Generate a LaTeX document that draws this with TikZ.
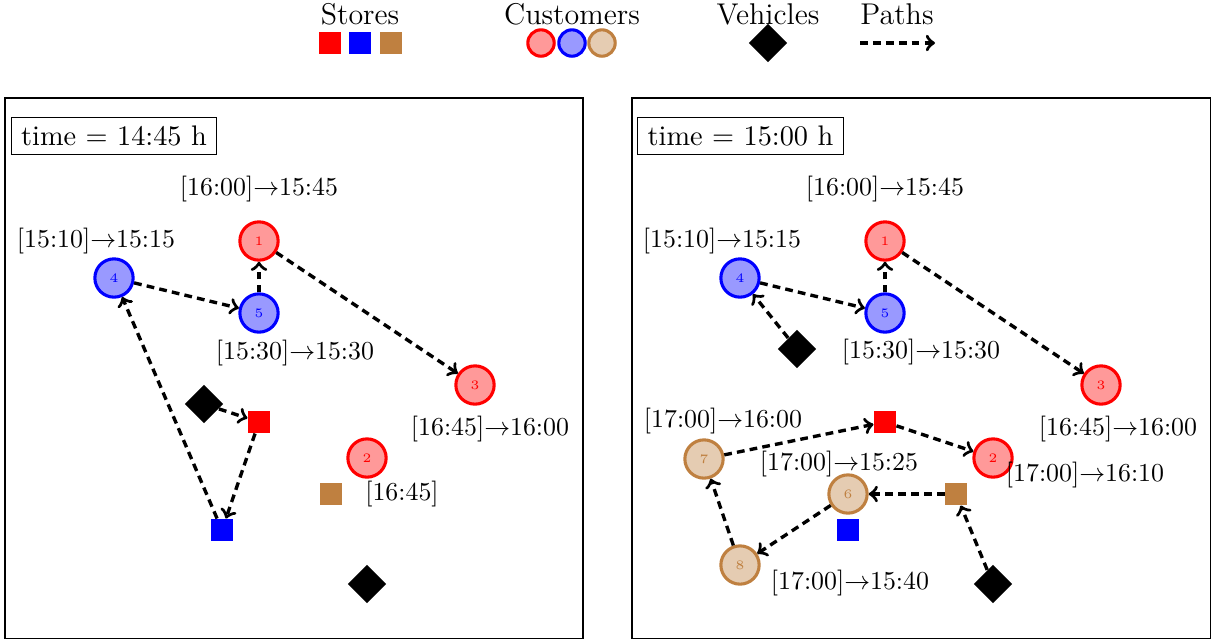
\documentclass[tikz,border=0pt]{standalone}
\usetikzlibrary{shapes.geometric}
\begin{document}
\begin{tikzpicture}[x=0.3867pt,y=-0.3867pt,
  cust/.style={circle, draw=#1, fill=#1!40, line width=1.2pt, minimum size=14.8pt, inner sep=0pt, text=#1, font=\tiny},
  lcust/.style={circle, draw=#1, fill=#1!40, line width=1.2pt, minimum size=10.2pt, inner sep=0pt},
  store/.style={rectangle, fill=#1, minimum size=8.5pt, inner sep=0pt},
  veh/.style={diamond, fill=black, minimum size=15pt, inner sep=0pt},
  route/.style={->, line width=1.3pt, dash pattern=on 3pt off 2pt},
  lab/.style={inner sep=0pt},
  leg/.style={inner sep=0pt, anchor=base, font=\fontsize{11.6}{13.5}\selectfont},
  timebox/.style={draw, line width=0.4pt, inner xsep=3.9pt, minimum height=14.3pt, font=\fontsize{10.95}{13}\selectfont},
  panel/.style={draw, line width=0.4pt}]
\useasboundingbox (0,0) rectangle (1216,640);

% legend
\node[leg] (tS) at (360,24) {Stores};
\node[store=red] (gR) at (330,43) {};
\node[store=blue] (gB) at (360,43) {};
\node[store=brown] (gN) at (391,43) {};
\node[leg] (tC) at (572,24) {Customers};
\node[lcust=red] (gc1) at (541,43) {};
\node[lcust=blue] (gc2) at (572,43) {};
\node[lcust=brown] (gc3) at (602,43) {};
\node[leg] (tV) at (768,24) {Vehicles};
\node[veh] (gV) at (768,43) {};
\node[leg] (tP) at (897,24) {Paths};
\coordinate (pa) at (860,43);
\coordinate (pb) at (935,43);
\draw[route] (pa) -- (pb);

% panels
\draw[panel] (5,98) rectangle (583,638);
\draw[panel] (632,98) rectangle (1210,638);

% ---------- left panel ----------
\node[timebox] (Lt) at (114,136) {time $=$ 14:45 h};
\node[lab] (Ll1) at (259,189) {[16:00]$\rightarrow$15:45};
\node[cust=red] (L1) at (259,241) {1};
\node[lab] (Ll4) at (96,241) {[15:10]$\rightarrow$15:15};
\node[cust=blue] (L4) at (114,278) {4};
\node[cust=blue] (L5) at (259,313) {5};
\node[lab] (Ll5) at (295,353) {[15:30]$\rightarrow$15:30};
\node[cust=red] (L3) at (475,385) {3};
\node[lab] (Ll3) at (490,429) {[16:45]$\rightarrow$16:00};
\node[veh] (LV1) at (204,404) {};
\node[store=red] (LsR) at (259,422) {};
\node[cust=red] (L2) at (367,458) {2};
\node[store=brown] (LsN) at (331,494) {};
\node[lab] (Ll2) at (402,494) {[16:45]};
\node[store=blue] (LsB) at (222,530) {};
\node[veh] (LV2) at (367,584) {};

\draw[route] (L4) -- (L5);
\draw[route] (L5) -- (L1);
\draw[route] (L1) -- (L3);
\draw[route] (LV1) -- (LsR);
\draw[route] (LsR) -- (LsB);
\draw[route] (LsB) -- (L4);

% ---------- right panel ----------
\node[timebox] (Rt) at (740.5,136) {time $=$ 15:00 h};
\node[lab] (Rl1) at (885,189) {[16:00]$\rightarrow$15:45};
\node[cust=red] (R1) at (885,241) {1};
\node[lab] (Rl4) at (722,241) {[15:10]$\rightarrow$15:15};
\node[cust=blue] (R4) at (740,278) {4};
\node[cust=blue] (R5) at (885,313) {5};
\node[lab] (Rl5) at (921,352) {[15:30]$\rightarrow$15:30};
\node[veh] (RV1) at (797,349) {};
\node[cust=red] (R3) at (1101,385) {3};
\node[lab] (Rl3) at (1118,429) {[16:45]$\rightarrow$16:00};
\node[store=red] (RsR) at (885,422) {};
\node[lab] (Rl7) at (723,421) {[17:00]$\rightarrow$16:00};
\node[cust=brown] (R7) at (704,459) {7};
\node[lab] (Rl6) at (839,464) {[17:00]$\rightarrow$15:25};
\node[cust=red] (R2) at (993,458) {2};
\node[lab] (Rl2) at (1085,475) {[17:00]$\rightarrow$16:10};
\node[cust=brown] (R6) at (848,494) {6};
\node[store=brown] (RsN) at (956,494) {};
\node[store=blue] (RsB) at (848,530) {};
\node[cust=brown] (R8) at (740,565) {8};
\node[lab] (Rl8) at (850,583) {[17:00]$\rightarrow$15:40};
\node[veh] (RV2) at (993,584) {};

\draw[route] (RV1) -- (R4);
\draw[route] (R4) -- (R5);
\draw[route] (R5) -- (R1);
\draw[route] (R1) -- (R3);
\draw[route] (R7) -- (RsR);
\draw[route] (RsR) -- (R2);
\draw[route] (RsN) -- (R6);
\draw[route] (RV2) -- (RsN);
\draw[route] (R6) -- (R8);
\draw[route] (R8) -- (R7);
\end{tikzpicture}
\end{document}
